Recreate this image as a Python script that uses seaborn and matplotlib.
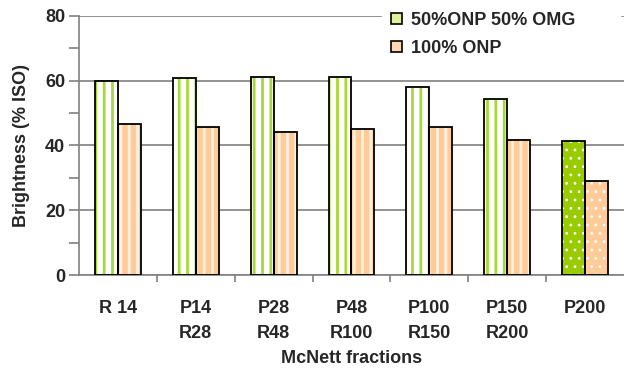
import matplotlib
matplotlib.use("Agg")
import matplotlib.pyplot as plt
import seaborn as sns
import pandas as pd
from matplotlib.patches import Rectangle, Patch
from matplotlib.ticker import MultipleLocator, FixedLocator

categories = ["R 14", "P14\nR28", "P28\nR48", "P48\nR100", "P100\nR150", "P150\nR200", "P200"]
series_names = ["50%ONP 50% OMG", "100% ONP"]
mix_values = [59.9, 60.9, 61.2, 61.2, 58.1, 54.4, 41.4]
onp_values = [46.5, 45.6, 44.2, 45.1, 45.6, 41.8, 29.1]

df = pd.DataFrame({
    "fraction": categories * 2,
    "series": [series_names[0]] * len(categories) + [series_names[1]] * len(categories),
    "brightness": mix_values + onp_values,
})

sns.set_style("white")
plt.rcParams["font.family"] = ["Liberation Sans", "DejaVu Sans"]
plt.rcParams["font.weight"] = "bold"
plt.rcParams["hatch.linewidth"] = 2.0

FS = 13

fig = plt.figure(figsize=(6.24, 3.69), dpi=100)
ax = fig.add_axes([0.1266, 0.2547, 0.8734, 0.702])

green = "#99CC00"
orange = "#FFCC99"
sns.barplot(data=df, x="fraction", y="brightness", hue="series",
            palette=[green, orange], width=0.59, gap=0, legend=False, ax=ax,
            zorder=2)

for ci, cont in enumerate(ax.containers):
    for bi, p in enumerate(cont.patches):
        last = bi == len(cont.patches) - 1
        if ci == 0:
            if last:
                p.set_facecolor(green)
                p.set_edgecolor("white")
                p.set_hatch("..")
            else:
                p.set_facecolor("white")
                p.set_edgecolor("#A8D838")
                p.set_hatch("||")
        else:
            if last:
                p.set_facecolor(orange)
                p.set_edgecolor("white")
                p.set_hatch("..")
            else:
                p.set_facecolor(orange)
                p.set_edgecolor("#FFF0E0")
                p.set_hatch("||")
        if last and hasattr(p, "set_hatch_linewidth"):
            p.set_hatch_linewidth(0.8)
        p.set_linewidth(0)
        outline = Rectangle(p.get_xy(), p.get_width(), p.get_height(), fill=False,
                            edgecolor="black", linewidth=1.3, zorder=3)
        ax.add_patch(outline)

ax.set_ylim(0, 80)
ax.set_xlim(-0.5, len(categories) - 0.5)
ax.yaxis.set_major_locator(MultipleLocator(20))
ax.yaxis.set_minor_locator(MultipleLocator(10))
ax.grid(axis="y", which="major", color="#808080", linewidth=1.2, zorder=0)
ax.set_axisbelow(True)

for s in ["top", "right"]:
    ax.spines[s].set_visible(False)
ax.spines["left"].set_color("#808080")
ax.spines["bottom"].set_color("#808080")
ax.spines["left"].set_linewidth(1.2)
ax.spines["bottom"].set_linewidth(1.2)

ax.tick_params(axis="y", which="major", direction="out", length=7, width=1.2,
               color="#808080", labelsize=FS, pad=3, left=True)
ax.tick_params(axis="y", which="minor", direction="out", length=7, width=1.2,
               color="#808080", left=True)
ax.xaxis.set_minor_locator(FixedLocator([i + 0.5 for i in range(len(categories) - 1)]))
ax.tick_params(axis="x", which="major", length=0, labelsize=FS, pad=18)
ax.tick_params(axis="x", which="minor", direction="out", length=5, width=1.2,
               color="#808080", bottom=True)
for lab in ax.get_xticklabels() + ax.get_yticklabels():
    lab.set_fontweight("bold")
    lab.set_linespacing(1.6)

ax.set_xlabel("McNett fractions", fontsize=FS, fontweight="bold", labelpad=6)
ax.set_ylabel("Brightness (% ISO)", fontsize=FS, fontweight="bold", labelpad=11)

handles = [Patch(facecolor="#DDF29A", edgecolor="black", linewidth=1.2),
           Patch(facecolor="#FFD9B3", edgecolor="black", linewidth=1.2)]
leg = ax.legend(handles, series_names, loc="upper left",
                bbox_to_anchor=(0.54, 0.80, 0.47, 0.285), mode="expand",
                frameon=True, fancybox=False, framealpha=1, edgecolor="white",
                prop={"size": FS, "weight": "bold"}, handlelength=0.6,
                handleheight=0.6, handletextpad=0.5, labelspacing=0.6,
                borderpad=0.5)
leg.set_zorder(5)

fig.savefig("out.png", dpi=100)
